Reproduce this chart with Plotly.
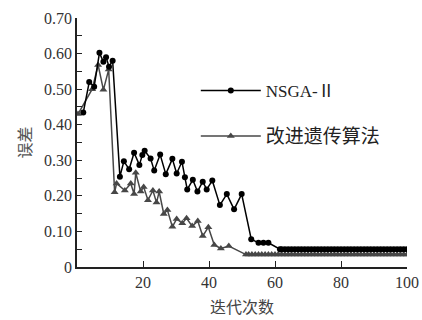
import plotly.graph_objects as go

nsga_x = [1.9, 3.7, 5.2, 6.8, 8.0, 8.8, 9.7, 10.8, 13.0, 14.2, 15.8, 17.3, 18.9, 19.8, 20.5,
          22.3, 23.4, 25.2, 26.9, 28.9, 30.2, 31.8, 32.7, 33.4, 35.1, 36.5, 38.1, 39.3, 41.0,
          43.3, 45.4, 47.6, 49.9, 52.8, 55.0, 56.5, 58.0,
          61.5, 62, 63, 64, 65, 66, 67, 68, 69, 70, 71, 72, 73, 74, 75, 76, 77, 78, 79, 80,
          81, 82, 83, 84, 85, 86, 87, 88, 89, 90, 91, 92, 93, 94, 95, 96, 97, 98, 99, 100]
nsga_y = [0.434, 0.52, 0.507, 0.602, 0.577, 0.59, 0.563, 0.58, 0.254, 0.297, 0.275, 0.321, 0.287, 0.315, 0.327,
          0.305, 0.271, 0.316, 0.261, 0.304, 0.263, 0.296, 0.252, 0.218, 0.245, 0.212, 0.240, 0.218, 0.243,
          0.174, 0.205, 0.162, 0.205, 0.078, 0.068, 0.068, 0.068,
          0.05, 0.05, 0.05, 0.05, 0.05, 0.05, 0.05, 0.05, 0.05, 0.05, 0.05, 0.05, 0.05, 0.05, 0.05, 0.05, 0.05, 0.05, 0.05, 0.05,
          0.05, 0.05, 0.05, 0.05, 0.05, 0.05, 0.05, 0.05, 0.05, 0.05, 0.05, 0.05, 0.05, 0.05, 0.05, 0.05, 0.05, 0.05, 0.05, 0.05]

ga_x = [0.3, 4.6, 6.4, 8.0, 9.6, 11.4, 12.0, 14.5, 16.3, 17.3, 17.8, 19.3, 20.2, 21.5, 23.0, 24.1,
        24.9, 26.3, 27.4, 28.9, 30.2, 31.9, 33.2, 34.9, 36.6, 38.1, 39.8, 41.6, 43.6, 46.0,
        51.2, 52, 53, 54, 55, 56, 57, 58, 59, 60, 61, 62, 63, 64, 65, 66, 67, 68, 69, 70,
        71, 72, 73, 74, 75, 76, 77, 78, 79, 80, 81, 82, 83, 84, 85, 86, 87, 88, 89, 90,
        91, 92, 93, 94, 95, 96, 97, 98, 99, 100]
ga_y = [0.43, 0.50, 0.568, 0.498, 0.555, 0.21, 0.235, 0.215, 0.235, 0.205, 0.265, 0.212, 0.225, 0.188, 0.215, 0.181,
        0.212, 0.149, 0.16, 0.113, 0.135, 0.123, 0.137, 0.115, 0.129, 0.087, 0.112, 0.062, 0.052, 0.059,
        0.035, 0.035, 0.035, 0.035, 0.035, 0.035, 0.035, 0.035, 0.035, 0.035, 0.035, 0.035, 0.035, 0.035, 0.035, 0.035, 0.035, 0.035, 0.035, 0.035,
        0.035, 0.035, 0.035, 0.035, 0.035, 0.035, 0.035, 0.035, 0.035, 0.035, 0.035, 0.035, 0.035, 0.035, 0.035, 0.035, 0.035, 0.035, 0.035, 0.035,
        0.035, 0.035, 0.035, 0.035, 0.035, 0.035, 0.035, 0.035, 0.035, 0.035]

y_tickvals = [0, 0.05, 0.10, 0.15, 0.20, 0.25, 0.30, 0.35, 0.40, 0.45, 0.50, 0.55, 0.60, 0.65, 0.70]
y_ticktext = ["0", "", "0.10", "", "0.20", "", "0.30", "", "0.40", "", "0.50", "", "0.60", "", "0.70"]
x_tickvals = [20, 40, 60, 80, 100]
x_ticktext = ["20", "40", "60", "80", "100"]

series_names = ["NSGA-Ⅱ", "改进遗传算法"]

serif = "Liberation Serif, Times New Roman, Noto Sans CJK SC, serif"

fig = go.Figure()
fig.add_trace(go.Scatter(x=ga_x, y=ga_y, mode="lines+markers", name=series_names[1],
                         line=dict(color="#474747", width=1.5),
                         marker=dict(symbol="triangle-up", size=7, color="#474747"),
                         legend="legend2", showlegend=True))
fig.add_trace(go.Scatter(x=nsga_x, y=nsga_y, mode="lines+markers", name=series_names[0],
                         line=dict(color="#000000", width=1.5),
                         marker=dict(symbol="circle", size=6, color="#000000"),
                         legend="legend", showlegend=True))

fig.update_layout(
    width=422, height=320,
    showlegend=True,
    margin=dict(l=77, r=15, t=18, b=53),
    paper_bgcolor="white", plot_bgcolor="white",
    font=dict(family=serif, size=16, color="#333333"),
    legend=dict(x=0.36, y=0.707, xanchor="left", yanchor="middle",
                bgcolor="rgba(0,0,0,0)", font=dict(size=17, color="#222222"), itemwidth=60),
    legend2=dict(x=0.36, y=0.526, xanchor="left", yanchor="middle",
                 bgcolor="rgba(0,0,0,0)", font=dict(size=19, color="#222222"), itemwidth=60),
    xaxis=dict(range=[0, 100], tickvals=x_tickvals, ticktext=x_ticktext, automargin=False,
               ticks="inside", ticklen=6, tickwidth=1.2, tickcolor="#222222",
               showline=True, linecolor="#222222", linewidth=1.5, showgrid=False, zeroline=False,
               title=dict(text="迭代次数", font=dict(size=16, color="#444444"), standoff=12),
               tickfont=dict(size=16, color="#333333")),
    yaxis=dict(range=[0, 0.70], tickvals=y_tickvals, ticktext=y_ticktext, automargin=False,
               ticks="inside", ticklen=5, tickwidth=1.2, tickcolor="#222222",
               showline=True, linecolor="#222222", linewidth=1.5, showgrid=False, zeroline=False,
               title=dict(text="误差", font=dict(size=16, color="#555555"), standoff=8),
               tickfont=dict(size=16, color="#333333")),
)

fig.write_html("out.html", config={"displayModeBar": False},
               post_script="document.body.style.margin='0';document.body.style.overflow='hidden';")
